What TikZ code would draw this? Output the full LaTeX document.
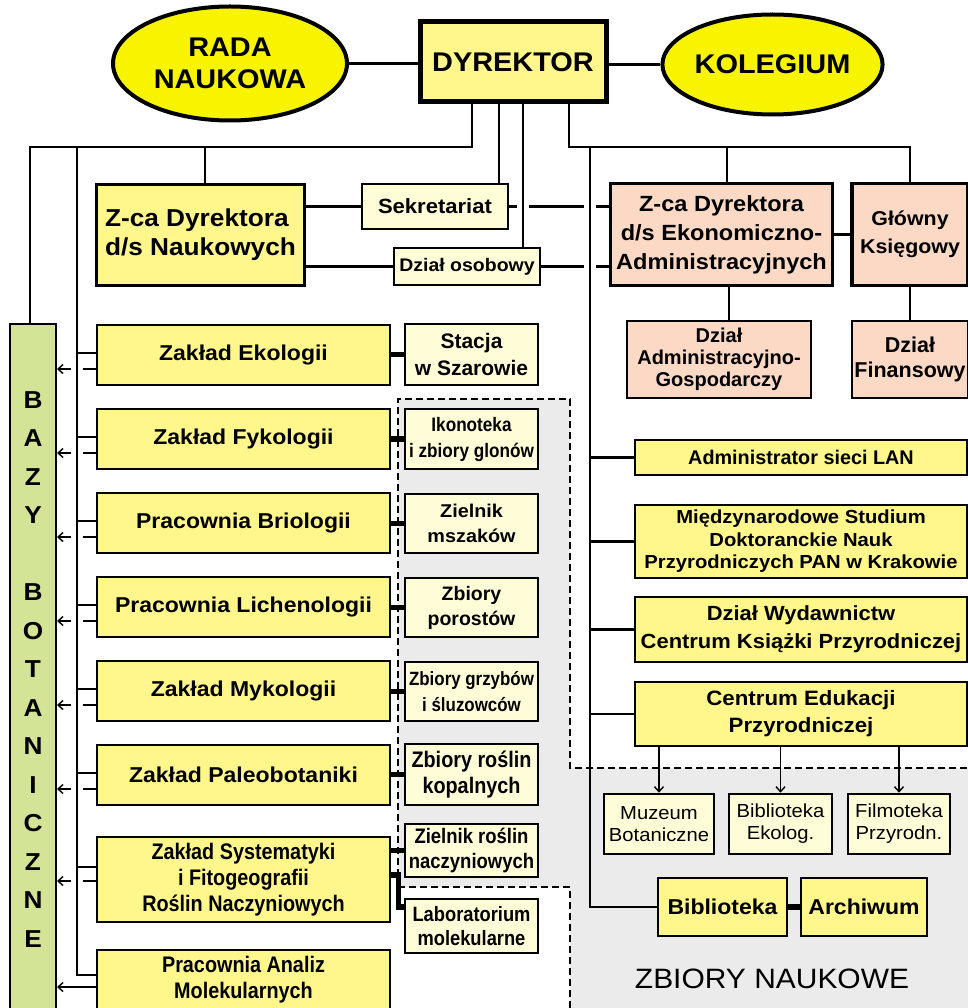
\documentclass[tikz,border=0pt]{standalone}
\usepackage{fontspec}
\setmainfont{Liberation Sans}
\newfontfamily\wf{Liberation Sans}[FakeStretch=1.07]
\newfontfamily\mf{Liberation Sans}
\newfontfamily\nf{Liberation Sans}[FakeStretch=0.88]
\usetikzlibrary{shapes.geometric,arrows.meta,calc}
\newcommand\fsz[2]{\fontsize{#1pt}{#2pt}\selectfont}
\definecolor{ellY}{HTML}{F8F400}
\definecolor{boxY}{HTML}{FFF78C}
\definecolor{lightY}{HTML}{FFFCD8}
\definecolor{salmon}{HTML}{FBD9C5}
\definecolor{greenB}{HTML}{D3E497}
\definecolor{greyR}{HTML}{EBEBEB}
\tikzset{
  box/.style={draw=black, line width=2.6pt, inner sep=0pt, align=center, text=black},
  ybox/.style={box, fill=boxY},
  lbox/.style={box, fill=lightY},
  sbox/.style={box, fill=salmon},
  heavy/.style={line width=3.5pt},
  ell/.style={ellipse, draw=black, line width=4pt, fill=ellY, inner sep=0pt, align=center},
  wh/.style n args={2}{minimum width=#1pt, minimum height=#2pt},
  ln/.style={line width=2.3pt},
  thk/.style={line width=5.5pt},
  arr/.style={line width=1.4pt, -{Straight Barb[length=5pt,width=9pt,line width=1.4pt]}},
  dsh/.style={dash pattern=on 7pt off 4pt, line width=1.6pt},
}
\begin{document}
\begin{tikzpicture}[x=1pt, y=-1pt]
\useasboundingbox (0,0) rectangle (967,1008);
% grey region ZBIORY NAUKOWE
\fill[greyR] (398,399) -- (570,399) -- (570,768) -- (975,768) -- (975,1015) -- (570,1015) -- (570,887) -- (398,887) -- cycle;
\draw[dsh] (398,887) -- (398,399) -- (570,399) -- (570,768) -- (975,768);
\draw[dsh] (398,887) -- (570,887) -- (570,1015);

% top
\node[ell, wh={234}{114}, font=\wf\bfseries\fsz{27}{32}] (rada) at (230,63.5) {RADA\\NAUKOWA};
\node[ybox, line width=5pt, wh={186}{80}, font=\wf\bfseries\fsz{27}{32}] (dyr) at (513,62) {DYREKTOR};
\node[ell, wh={208}{100}, font=\wf\bfseries\fsz{27}{32}] (kol) at (772.5,64.5) {KOLEGIUM};

\node[ybox, heavy, wh={208}{101}, align=left, font=\wf\bfseries\fsz{24.5}{29}] (zn) at (200.5,235) {Z-ca Dyrektora\\d/s Naukowych};
\node[lbox, wh={146}{45}, font=\wf\bfseries\fsz{20.6}{24}] (sek) at (435,206.5) {Sekretariat};
\node[lbox, wh={146}{37}, font=\wf\bfseries\fsz{18.2}{22}] (oso) at (467,266.5) {Dział osobowy};
\node[sbox, heavy, wh={222}{102}, font=\wf\bfseries\fsz{22}{29}] (ze) at (721.5,234.5) {Z-ca Dyrektora\\d/s Ekonomiczno-\\Administracyjnych};
\node[sbox, heavy, wh={116}{102}, font=\wf\bfseries\fsz{20}{28}] (gk) at (910,234.5) {Główny\\Księgowy};
\node[sbox, wh={184}{77}, font=\mf\bfseries\fsz{20}{21.7}] (dag) at (719,359.5) {Dział\\Administracyjno-\\Gospodarczy};
\node[sbox, wh={116}{77}, font=\mf\bfseries\fsz{21.5}{25}] (dfi) at (910,359.5) {Dział\\Finansowy};

% right column
\node[ybox, wh={332}{35}, font=\mf\bfseries\fsz{19.8}{24}] (lan) at (801,457.5) {Administrator sieci LAN};
\node[ybox, wh={332}{73}, font=\wf\bfseries\fsz{18.9}{22.5}] (msd) at (801,541.5) {Międzynarodowe Studium\\Doktoranckie Nauk\\Przyrodniczych PAN w Krakowie};
\node[ybox, wh={332}{65}, font=\wf\bfseries\fsz{20.5}{27.7}] (wyd) at (801,629.5) {Dział Wydawnictw\\Centrum Książki Przyrodniczej};
\node[ybox, wh={332}{64}, font=\wf\bfseries\fsz{20.8}{27}] (ced) at (801,714) {Centrum Edukacji\\Przyrodniczej};

\node[lbox, wh={110}{60}, font=\wf\fsz{18.9}{22}] (muz) at (659,824) {Muzeum\\Botaniczne};
\node[lbox, wh={103}{60}, font=\wf\fsz{18.9}{22}] (bek) at (780.5,824) {Biblioteka\\Ekolog.};
\node[lbox, wh={102}{60}, font=\wf\fsz{18.9}{22}] (fil) at (899,824) {Filmoteka\\Przyrodn.};
\node[ybox, wh={129}{58}, font=\wf\bfseries\fsz{21.5}{26}] (bib) at (722.5,907) {Biblioteka};
\node[ybox, wh={126}{58}, font=\wf\bfseries\fsz{21.5}{26}] (arc) at (864,907) {Archiwum};
\node[font=\wf\fsz{28}{32}] (zbn) at (772,979) {ZBIORY NAUKOWE};

% left column
\node[box, line width=2pt, fill=greenB, wh={46}{691}, font=\wf\bfseries\fsz{24.5}{38.5}] (bazy) at (33,669.5) {B\\A\\Z\\Y\\[38.5pt]B\\O\\T\\A\\N\\I\\C\\Z\\N\\E};
\node[ybox, wh={293}{60}, font=\wf\bfseries\fsz{21.5}{26}] (eko) at (243.5,355) {Zakład Ekologii};
\node[ybox, wh={293}{60}, font=\wf\bfseries\fsz{21.5}{26}] (fyk) at (243.5,439) {Zakład Fykologii};
\node[ybox, wh={293}{60}, font=\wf\bfseries\fsz{21.5}{26}] (bri) at (243.5,523) {Pracownia Briologii};
\node[ybox, wh={293}{60}, font=\wf\bfseries\fsz{21.5}{26}] (lic) at (243.5,607) {Pracownia Lichenologii};
\node[ybox, wh={293}{60}, font=\wf\bfseries\fsz{21.5}{26}] (myk) at (243.5,691) {Zakład Mykologii};
\node[ybox, wh={293}{60}, font=\wf\bfseries\fsz{21.5}{26}] (pal) at (243.5,775) {Zakład Paleobotaniki};
\node[ybox, wh={293}{85}, font=\nf\bfseries\fsz{22.5}{26}] (sys) at (243.5,879.5) {Zakład Systematyki\\i Fitogeografii\\Roślin Naczyniowych};
\node[ybox, wh={293}{59}, font=\nf\bfseries\fsz{22.5}{26}] (anl) at (243.5,979.5) {Pracownia Analiz\\Molekularnych};

% collections
\node[lbox, wh={133}{61}, font=\mf\bfseries\fsz{21}{27}] (sta) at (471.5,354.5) {Stacja\\w Szarowie};
\node[lbox, wh={133}{60}, font=\nf\bfseries\fsz{19.5}{26}] (iko) at (471.5,439) {Ikonoteka\\i zbiory glonów};
\node[lbox, wh={133}{59}, font=\wf\bfseries\fsz{18.5}{25}] (zms) at (471.5,523.5) {Zielnik\\mszaków};
\node[lbox, wh={133}{59}, font=\mf\bfseries\fsz{19.5}{25}] (zpo) at (471.5,607.5) {Zbiory\\porostów};
\node[lbox, wh={133}{59}, font=\nf\bfseries\fsz{19.2}{26}] (zgr) at (471.5,691.5) {Zbiory grzybów\\i śluzowców};
\node[lbox, wh={133}{61}, font=\nf\bfseries\fsz{22.5}{26}] (zrk) at (471.5,774.5) {Zbiory roślin\\kopalnych};
\node[lbox, wh={133}{53}, font=\nf\bfseries\fsz{21}{25}] (zrn) at (471.5,850.5) {Zielnik roślin\\naczyniowych};
\node[lbox, wh={133}{54}, font=\nf\bfseries\fsz{20.8}{24}] (lab) at (471.5,926) {Laboratorium\\molekularne};

% bus coordinates
\coordinate (cB) at (30,147);
\coordinate (vL) at (77,147);
\coordinate (cZ) at (205,147);
\coordinate (bL) at (472,147);
\coordinate (s1) at (499,147);
\coordinate (vO) at (523,147);
\coordinate (bR) at (569,147);
\coordinate (vR) at (590,147);
\coordinate (cE) at (727,147);
\coordinate (cA) at (729,300);

% connectors that are crossed (with gaps)
\draw[ln] (sek.east) -- (ze.west |- sek.east);
\draw[ln] (oso.east) -- (ze.west |- oso.east);
\foreach \n/\s in {eko/14,fyk/14,bri/14,lic/14,myk/14,pal/14,sys/1.5,anl/7.5}{
  \path ([yshift=-\s pt]\n.west) coordinate (a\n);
  \draw[arr] (a\n) -- (bazy.east |- a\n);
}
\foreach \n in {eko,fyk,bri,lic,myk,pal,sys}
  \fill[white] (vL |- a\n) ++(-6,-2.7) rectangle ++(12,5.4);
\fill[white] (vO |- sek.east) ++(-6,-2.7) rectangle ++(12,5.4);
\fill[white] (vR |- sek.east) ++(-6,-2.7) rectangle ++(12,5.4);
\fill[white] (vR |- oso.east) ++(-6,-2.7) rectangle ++(12,5.4);

% main connectors
\draw[ln] (rada.east) -- (dyr.west |- rada.east);
\draw[ln] (dyr.east |- kol.west) -- (kol.west);
\draw[ln] (dyr.south -| bL) -- (bL) -- (cB) -- (cB |- bazy.north);
\draw[ln] (cZ) -- (cZ |- zn.north);
\draw[ln] (vL) |- ([yshift=4.5pt]anl.west);
\foreach \n/\s in {eko/2,fyk/2,bri/2,lic/2,myk/2,pal/2,sys/12.5}{
  \path ([yshift=\s pt]\n.west) coordinate (b\n);
  \draw[ln] (vL |- b\n) -- (b\n);
}
\draw[ln] (dyr.south -| s1) -- (s1 |- sek.north);
\draw[ln] (dyr.south -| vO) -- (vO |- oso.north);
\draw[ln] (dyr.south -| bR) -- (bR) -| (gk.north);
\draw[ln] (cE) -- (cE |- ze.north);
\draw[ln] (vR) |- (bib.west);
\foreach \n in {lan,msd,wyd,ced}
  \draw[ln] (vR |- \n.west) -- (\n.west);
\draw[ln] (zn.east |- sek.west) -- (sek.west);
\draw[ln] (zn.east |- oso.west) -- (oso.west);
\draw[ln] (ze.east) -- (gk.west);
\draw[ln] (ze.south -| cA) -- (cA |- dag.north);
\draw[ln] (gk.south) -- (dfi.north);

% thick links to collections
\foreach \a/\b in {eko/sta,fyk/iko,bri/zms,lic/zpo,myk/zgr,pal/zrk,sys/zrn}
  \draw[thk] (\a.east |- \b.west) -- (\b.west);
\draw[thk] ([yshift=4.5pt]sys.east) -- ++(7,0) |- ([yshift=19pt]lab.west);
\draw[thk] (bib.east) -- (arc.west);

% arrows to museum etc.
\foreach \n in {muz,bek,fil}
  \draw[arr] (\n.north |- ced.south) -- (\n.north);
\end{tikzpicture}
\end{document}
